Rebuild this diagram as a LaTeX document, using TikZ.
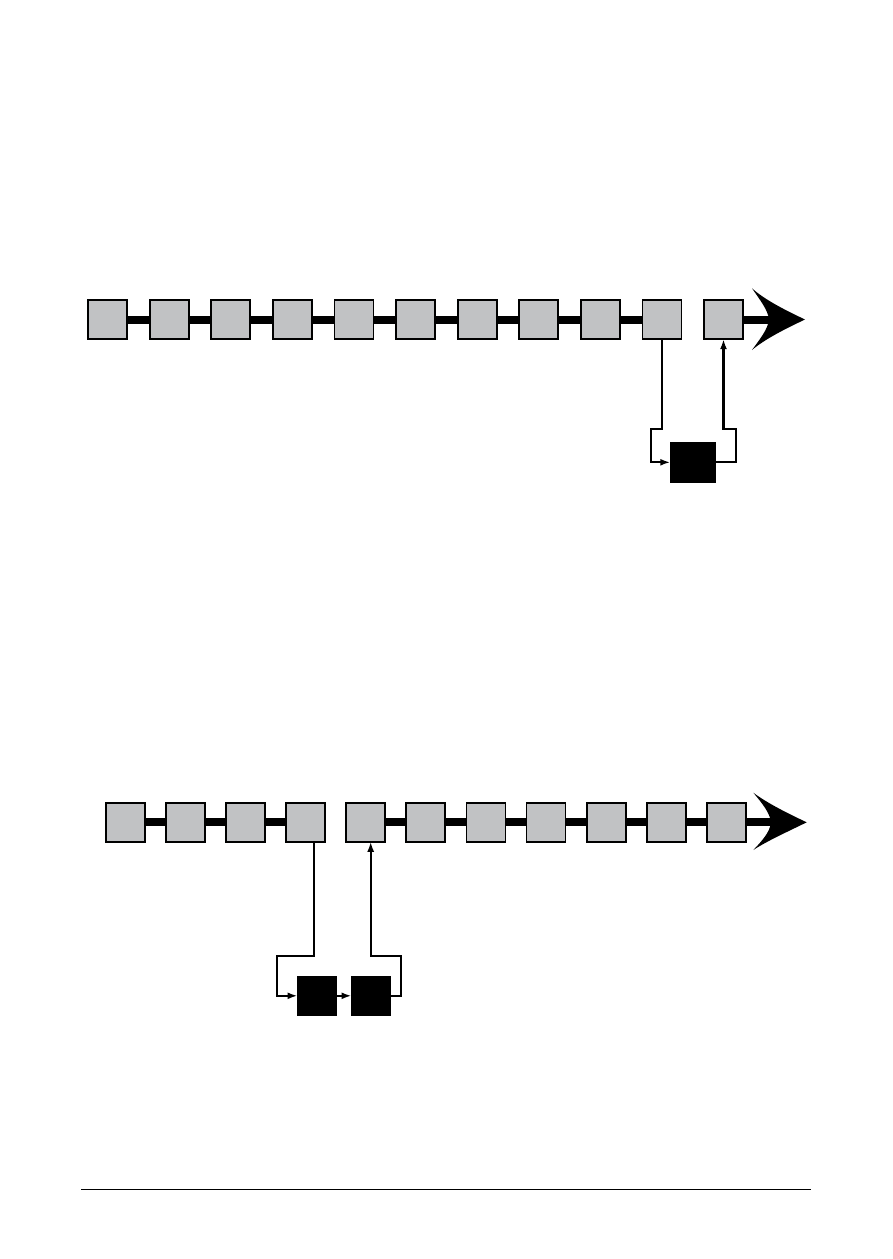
\documentclass[tikz,border=0pt]{standalone}
\usetikzlibrary{arrows.meta,calc}
\definecolor{boxgray}{RGB}{193,194,196}
\begin{document}
\begin{tikzpicture}[x=1pt,y=-1pt,
  cell/.style={draw=black,fill=boxgray,line width=1.8pt,minimum width=39pt,minimum height=39pt,inner sep=0pt,outer sep=0pt},
  blk/.style={draw=black,fill=black,line width=0.5pt,inner sep=0pt,outer sep=0pt},
  bar/.style={line width=8pt,black},
  fb/.style={line width=2.2pt,black},
  fbarrow/.style={fb,-{Latex[length=10pt,width=7pt]}},
  bighead/.style={fill=black,draw=none}]
\useasboundingbox (0,0) rectangle (893,1259);
% ---------- top row ----------
\foreach \i in {0,...,10}{
  \coordinate (tc\i) at ({107.5+61.6*\i},319.7);
}
\draw[bar] (tc0) -- (tc9);
\coordinate (tarrowback) at (770,319.7);
\draw[bar] (tc10) -- (tarrowback);
\foreach \i in {0,...,10}{
  \node[cell] (t\i) at (tc\i) {};
}
\coordinate (ttip) at (805,319.5);
\fill (ttip) .. controls (785,310) and (765,300) .. (752,288.3)
  .. controls (760,300) and (768,310) .. (769,319.5)
  .. controls (768,329) and (760,339) .. (752,350)
  .. controls (765,339) and (785,329) .. (ttip) -- cycle;
\node[blk,minimum width=45pt,minimum height=40pt] (tb) at (692.8,462.3) {};
\coordinate (tylev) at (0,429.3);
\coordinate (ta2) at (650.7,429.3);
\coordinate (ta3) at (650.7,462.3);
\draw[fbarrow] (t9.south) -- (t9.south |- tylev) -- (ta2) -- (ta3) -- (tb.west);
\coordinate (tr1) at (735.7,462.3);
\coordinate (tr2) at (735.7,429.3);
\draw[fbarrow] (tb.east) -- (tr1) -- (tr2) -- (t10.south |- tylev) -- (t10.south);
% ---------- bottom row ----------
\foreach \i in {0,...,10}{
  \coordinate (bc\i) at ({125.3+60.1*\i},822.3);
}
\draw[bar] (bc0) -- (bc3);
\coordinate (barrowback) at (772,822.3);
\draw[bar] (bc4) -- (barrowback);
\foreach \i in {0,...,10}{
  \node[cell] (b\i) at (bc\i) {};
}
\coordinate (btip) at (806.7,822.3);
\fill (btip) .. controls (787,813) and (767,803) .. (753.3,792.7)
  .. controls (762,803) and (770,813) .. (771,822.3)
  .. controls (770,832) and (762,841) .. (753.3,850)
  .. controls (767,841) and (787,832) .. (btip) -- cycle;
\node[blk,minimum width=39pt,minimum height=39.5pt] (bk1) at (317,995.8) {};
\node[blk,minimum width=39pt,minimum height=39.5pt] (bk2) at (371,995.8) {};
\coordinate (bs) at ($(b3.south)+(8,0)$);
\coordinate (bylev) at (0,955.7);
\coordinate (ba2) at (276.7,955.7);
\coordinate (ba3) at (276.7,995.8);
\draw[fbarrow] (bs) -- (bs |- bylev) -- (ba2) -- (ba3) -- (bk1.west);
\draw[fbarrow] (bk1.east) -- (bk2.west);
\coordinate (br1) at (401,995.8);
\coordinate (br2) at (401,955.7);
\coordinate (be) at ($(b4.south)+(5,0)$);
\draw[fbarrow] (bk2.east) -- (br1) -- (br2) -- (be |- bylev) -- (be);
% ---------- footer rule ----------
\coordinate (fl) at (81,1189.5);
\coordinate (fr) at (811,1189.5);
\draw[line width=0.8pt,black] (fl) -- (fr);
\end{tikzpicture}
\end{document}
